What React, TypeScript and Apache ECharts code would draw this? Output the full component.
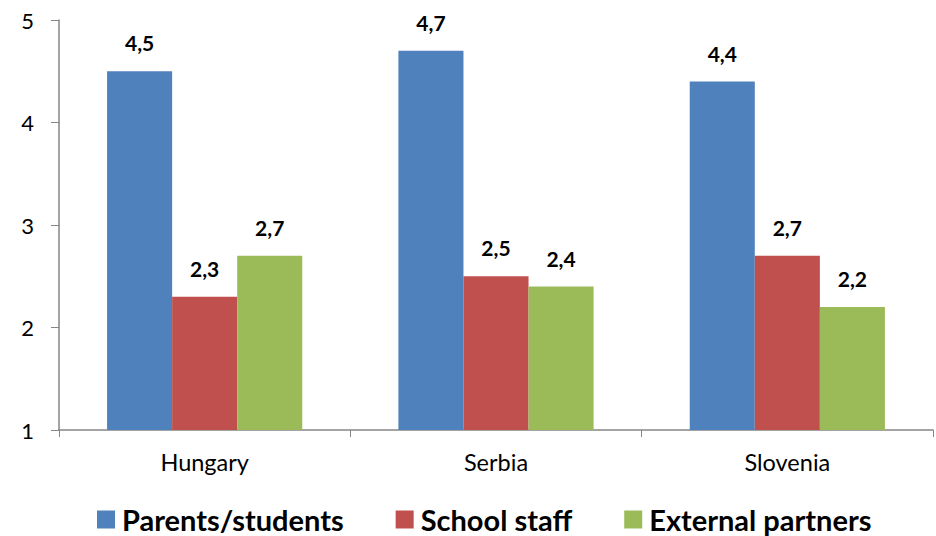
import React, { useEffect, useRef } from "react";
import * as echarts from "echarts";

const categories = ["Hungary", "Serbia", "Slovenia"];
const seriesNames = ["Parents/students", "School staff", "External partners"];
const parentsStudents = [4.5, 4.7, 4.4];
const schoolStaff = [2.3, 2.5, 2.7];
const externalPartners = [2.7, 2.4, 2.2];
const colors = ["#4F81BD", "#C0504D", "#9BBB59"];
const FONT = "Lato";

export default function App() {
  const ref = useRef<HTMLDivElement>(null);
  useEffect(() => {
    if (!ref.current) return;
    const chart = echarts.init(ref.current, undefined, { renderer: "svg" });
    const values = [parentsStudents, schoolStaff, externalPartners];
    chart.setOption({
      animation: false,
      backgroundColor: "#ffffff",
      textStyle: { fontFamily: FONT },
      grid: { left: 59, right: 3, top: 20, bottom: 106, containLabel: false },
      legend: {
        top: 505,
        left: 97,
        itemWidth: 18,
        itemHeight: 18,
        itemGap: 52,
        padding: 0,
        icon: "rect",
        data: seriesNames,
        textStyle: {
          fontFamily: FONT,
          fontSize: 29,
          lineHeight: 29,
          fontWeight: "bold",
          color: "#000",
          padding: [0, 0, 0, 2],
        },
      },
      xAxis: {
        type: "category",
        data: categories,
        axisLine: { lineStyle: { color: "#868686", width: 1.5 } },
        axisTick: { show: true, length: 7, lineStyle: { color: "#868686" } },
        axisLabel: { fontFamily: FONT, fontSize: 23.5, color: "#000", margin: 20 },
      },
      yAxis: {
        type: "value",
        min: 1,
        max: 5,
        interval: 1,
        splitLine: { show: false },
        axisLine: { show: true, lineStyle: { color: "#868686", width: 1.5 } },
        axisTick: { show: true, length: 8, lineStyle: { color: "#868686" } },
        axisLabel: { fontFamily: FONT, fontSize: 22, color: "#000", margin: 25 },
      },
      series: seriesNames.map((name, i) => ({
        name,
        type: "bar",
        data: values[i],
        barGap: "0%",
        barCategoryGap: "33%",
        itemStyle: { color: colors[i] },
        label: {
          show: true,
          position: "top",
          distance: 18,
          fontFamily: FONT,
          fontSize: 21,
          fontWeight: "bold",
          color: "#000",
          formatter: (p: any) => String(p.value).replace(".", ","),
        },
      })),
    });
    return () => chart.dispose();
  }, []);
  return <div ref={ref} style={{ width: 936, height: 536, position: "absolute", left: 0, top: 0 }} />;
}
